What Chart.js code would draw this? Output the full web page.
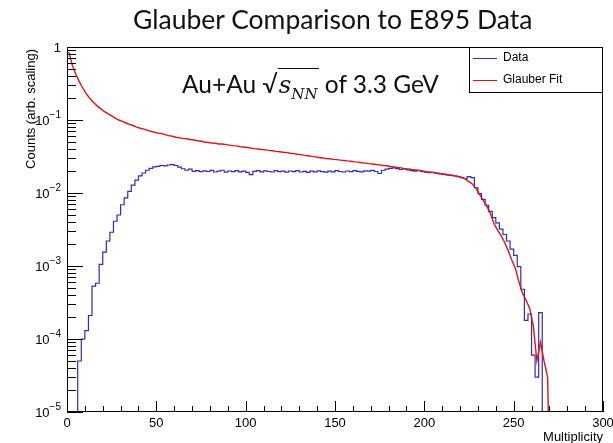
<!DOCTYPE html>
<html>
<head>
<meta charset="utf-8">
<script src="https://cdn.jsdelivr.net/npm/chart.js@4/dist/chart.umd.min.js"></script>
<style>
body { margin: 0; background: #fff; }
#wrap { position: relative; width: 613px; height: 443px; }
#title { position: absolute; left: 133px; top: 3px; white-space: nowrap; font: 26.5px Lato, sans-serif; color: #111; }
#note { position: absolute; left: 182px; top: 69px; font: 24.5px Lato, sans-serif; color: #111; white-space: nowrap; }
#note .m { font-family: "DejaVu Serif", serif; font-style: italic; }
#note .rad { border-top: 1.5px solid #111; padding: 0 1px; }
#note sub { font-size: 15px; }
</style>
</head>
<body>
<div id="wrap">
  <canvas id="myChart" width="613" height="443"></canvas>
  <div id="title">Glauber Comparison to E895 Data</div>
  <div id="note">Au+Au √<span class="rad"><span class="m">s</span><sub class="m">NN</sub></span> of 3.3 GeV</div>
</div>
<script>
// histogram bins are 2 units wide, starting at multiplicity 0
var binWidth = 2;

var dataValues = [
    0, 0, 0, 5e-5, 1.0e-4, 1.3e-4, 2.1e-4, 5.3e-4, 5.8e-4, 1.05e-3,                       // 0-20
    1.55e-3, 2.2e-3, 2.9e-3, 4.1e-3, 5.0e-3, 6.9e-3, 8.6e-3, 0.0105, 0.0128, 0.0150,        // 20-40
    0.0172, 0.0188, 0.0205, 0.0218, 0.0228, 0.0232, 0.0238, 0.0235, 0.0242, 0.0245,        // 40-60
    0.0238, 0.0226, 0.0215, 0.0205, 0.0212, 0.0198, 0.0203, 0.0196, 0.0201, 0.0197,        // 60-80
    0.0204, 0.0194, 0.0199, 0.0205, 0.0193, 0.0200, 0.0196, 0.0203, 0.0195, 0.0199,        // 80-100
    0.0192, 0.0178, 0.0198, 0.0203, 0.0195, 0.0201, 0.0197, 0.0194, 0.0202, 0.0196,        // 100-120
    0.0199, 0.0193, 0.0200, 0.0196, 0.0202, 0.0194, 0.0198, 0.0192, 0.0199, 0.0195,        // 120-140
    0.0201, 0.0196, 0.0193, 0.0199, 0.0195, 0.0202, 0.0197, 0.0194, 0.0200, 0.0196,        // 140-160
    0.0203, 0.0198, 0.0195, 0.0201, 0.0199, 0.0204, 0.0197, 0.0185, 0.0205, 0.0212,        // 160-180
    0.0218, 0.0221, 0.0216, 0.0210, 0.0214, 0.0207, 0.0203, 0.0199, 0.0204, 0.0196,        // 180-200
    0.0193, 0.0190, 0.0192, 0.0186, 0.0183, 0.0180, 0.0177, 0.0174, 0.0171, 0.0167,        // 200-220
    0.0162, 0.0158, 0.0168, 0.0162, 0.0118, 0.0098, 0.0082, 0.0068, 0.0056, 0.0046,        // 220-240
    0.0039, 0.0032, 0.0027, 0.0022, 0.0017, 0.0014, 0.00098, 0.00048, 0.00018, 0.00022,    // 240-260
    0.00006, 0.00003, 0.00023, 0, 0, 0, 0, 0, 0, 0                                         // 260-280
];

var glauberValues = [
    0.86, 0.56, 0.42, 0.33, 0.27, 0.225, 0.195, 0.172, 0.155, 0.142,                        // 0-20
    0.130, 0.121, 0.114, 0.106, 0.100, 0.096, 0.091, 0.087, 0.084, 0.080,                   // 20-40
    0.077, 0.075, 0.072, 0.070, 0.068, 0.066, 0.065, 0.063, 0.061, 0.060,                   // 40-60
    0.058, 0.057, 0.056, 0.0553, 0.054, 0.0532, 0.052, 0.0512, 0.050, 0.0492,               // 60-80
    0.0485, 0.0481, 0.047, 0.0468, 0.046, 0.0452, 0.0445, 0.0442, 0.043, 0.0427,            // 80-100
    0.042, 0.0412, 0.0405, 0.0401, 0.0394, 0.0390, 0.0383, 0.0379, 0.0372, 0.0368,          // 100-120
    0.0361, 0.0357, 0.0350, 0.0346, 0.0339, 0.0335, 0.0328, 0.0324, 0.0317, 0.0313,         // 120-140
    0.0306, 0.0302, 0.0296, 0.0294, 0.0289, 0.0287, 0.0282, 0.0279, 0.0275, 0.0272,         // 140-160
    0.0267, 0.0265, 0.0260, 0.0257, 0.0253, 0.0250, 0.0246, 0.0243, 0.0238, 0.0236,         // 160-180
    0.0231, 0.0228, 0.0224, 0.0221, 0.0216, 0.0214, 0.0210, 0.0207, 0.0203, 0.0200,         // 180-200
    0.0196, 0.0194, 0.0190, 0.0188, 0.0184, 0.0182, 0.0178, 0.0176, 0.0172, 0.0169,         // 200-220
    0.0163, 0.0155, 0.0143, 0.0132, 0.0115, 0.0095, 0.0079, 0.0066, 0.0052, 0.0038,         // 220-240
    0.0031, 0.0026, 0.0021, 0.0016, 0.0012, 0.00092, 0.0006, 0.00042, 0.00034, 0.00026,     // 240-260
    0.00015, 0.00005, 0.00009, 0.00005, 0.00003, 0, 0, 0, 0, 0                              // 260-280
];

var xTicks = [0, 50, 100, 150, 200, 250, 300];
var yExponents = [-5, -4, -3, -2, -1, 0];

var blue = "#2d2dbd";
var red = "#e31212";

// histogram outline: left edge of each bin + closing edge
function toSteps(values) {
    var pts = values.map(function (v, i) {
        return { x: i * binWidth, y: v > 0 ? v : 1e-7 };
    });
    pts.push({ x: values.length * binWidth, y: pts[pts.length - 1].y });
    return pts;
}

// fit drawn as points joined at bin centres
function toCentres(values) {
    return values.map(function (v, i) {
        return { x: (i + 0.5) * binWidth, y: v > 0 ? v : 1e-7 };
    });
}

var rootFrame = {
    id: "rootFrame",
    afterDraw: function (chart) {
        var ctx = chart.ctx, a = chart.chartArea;
        var xs = chart.scales.x, ys = chart.scales.y;
        ctx.save();
        ctx.strokeStyle = "#000";
        ctx.lineWidth = 1;
        function seg(x1, y1, x2, y2) {
            ctx.beginPath(); ctx.moveTo(x1, y1); ctx.lineTo(x2, y2); ctx.stroke();
        }
        ctx.strokeRect(a.left + 0.5, a.top + 0.5, a.right - a.left - 1, a.bottom - a.top - 1);

        // x ticks, inside the frame
        for (var v = 0; v <= 300; v += 10) {
            var px = Math.round(xs.getPixelForValue(v)) + 0.5;
            seg(px, a.bottom, px, a.bottom - (v % 50 === 0 ? 11 : 6));
        }
        ctx.fillStyle = "#000";
        ctx.font = '13px "Liberation Sans", Arial, sans-serif';
        ctx.textAlign = "center";
        ctx.textBaseline = "top";
        xTicks.forEach(function (t) {
            ctx.fillText(String(t), xs.getPixelForValue(t), a.bottom + 5);
        });

        // y ticks (log), inside the frame
        yExponents.forEach(function (e) {
            var base = Math.pow(10, e);
            var py = Math.round(ys.getPixelForValue(base)) + 0.5;
            seg(a.left, py, a.left + 16, py);
            if (e < 0) {
                for (var k = 2; k <= 9; k++) {
                    var pm = Math.round(ys.getPixelForValue(k * base)) + 0.5;
                    seg(a.left, pm, a.left + 9, pm);
                }
            }
            ctx.textAlign = "right";
            ctx.textBaseline = "middle";
            var yy = ys.getPixelForValue(base);
            if (e === 0) {
                ctx.font = '13px "Liberation Sans", Arial, sans-serif';
                ctx.fillText("1", a.left - 6, yy + 1);
            } else {
                ctx.font = '10px "Liberation Sans", Arial, sans-serif';
                var sup = "\u2212" + (-e);
                ctx.fillText(sup, a.left - 6, yy - 5);
                var w = ctx.measureText(sup).width;
                ctx.font = '13px "Liberation Sans", Arial, sans-serif';
                ctx.fillText("10", a.left - 6 - w, yy + 1);
            }
        });

        // axis titles
        ctx.font = '13px "Liberation Sans", Arial, sans-serif';
        ctx.textAlign = "right";
        ctx.textBaseline = "alphabetic";
        ctx.fillText("Multiplicity", a.right, 441);
        ctx.save();
        ctx.translate(35, a.top + 2);
        ctx.rotate(-Math.PI / 2);
        ctx.fillText("Counts (arb. scaling)", 0, 0);
        ctx.restore();

        // legend box
        var lx = 469, ly = a.top, lw = a.right - 469, lh = 45;
        ctx.fillStyle = "#fff";
        ctx.fillRect(lx, ly, lw, lh);
        ctx.strokeRect(lx + 0.5, ly + 0.5, lw - 1, lh);
        var items = [["Data", blue, 58], ["Glauber Fit", red, 80]];
        ctx.font = '12px "Liberation Sans", Arial, sans-serif';
        ctx.textAlign = "left";
        ctx.textBaseline = "middle";
        items.forEach(function (it) {
            ctx.strokeStyle = it[1];
            seg(473, it[2] + 0.5, 497, it[2] + 0.5);
            ctx.fillStyle = "#000";
            ctx.fillText(it[0], 503, it[2]);
        });
        ctx.restore();
    }
};

new Chart("myChart", {
    type: "line",
    data: {
        datasets: [{
            label: "Glauber Fit",
            data: toCentres(glauberValues),
            borderColor: red,
            borderWidth: 1.4,
            pointRadius: 0,
            tension: 0,
            fill: false
        }, {
            label: "Data",
            data: toSteps(dataValues),
            borderColor: blue,
            borderWidth: 1.2,
            stepped: "before",
            pointRadius: 0,
            fill: false
        }]
    },
    options: {
        responsive: false,
        animation: false,
        layout: { padding: { left: 67, top: 47, right: 10, bottom: 31 } },
        plugins: { legend: { display: false }, title: { display: false }, tooltip: { enabled: false } },
        scales: {
            x: { type: "linear", min: 0, max: 300, display: false },
            y: { type: "logarithmic", min: 1e-5, max: 1, display: false }
        }
    },
    plugins: [rootFrame]
});
</script>
</body>
</html>
